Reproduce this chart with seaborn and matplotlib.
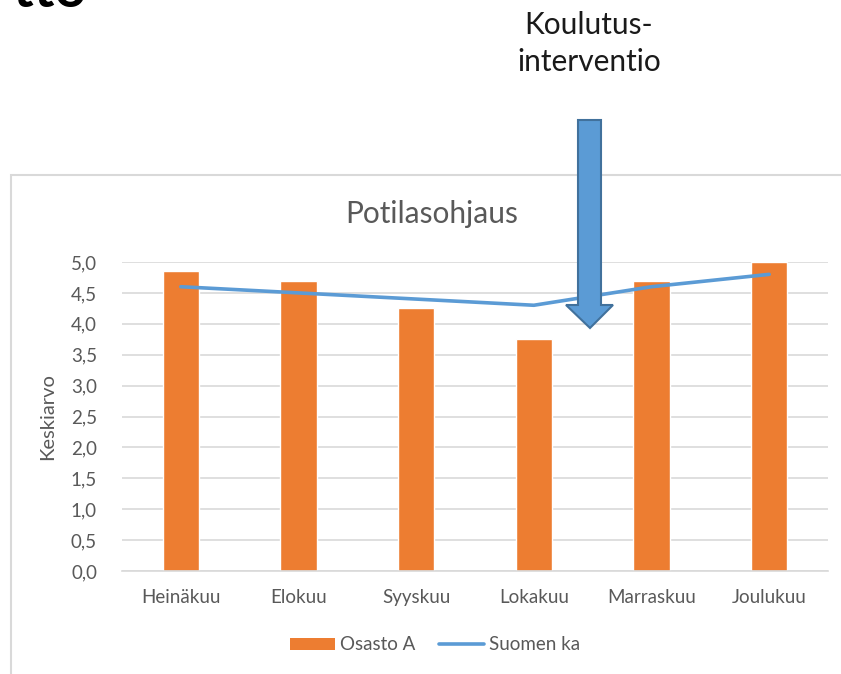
import numpy as np
import pandas as pd
import matplotlib
matplotlib.use("Agg")
import matplotlib.pyplot as plt
import seaborn as sns
from matplotlib.patches import Patch, Polygon, Rectangle
from matplotlib.lines import Line2D

months = ["Heinäkuu", "Elokuu", "Syyskuu", "Lokakuu", "Marraskuu", "Joulukuu"]
osasto_a = [4.85, 4.7, 4.25, 3.75, 4.7, 5.0]
suomen_ka = [4.6, 4.5, 4.4, 4.3, 4.6, 4.8]
y_ticks = [0.0, 0.5, 1.0, 1.5, 2.0, 2.5, 3.0, 3.5, 4.0, 4.5, 5.0]

ORANGE = "#ED7D31"
BLUE = "#5B9BD5"
GRID = "#D9D9D9"
TEXT = "#595959"

W, H = 841, 674

sns.set_style("white")
plt.rcParams["font.family"] = ["Lato", "DejaVu Sans"]

fig = plt.figure(figsize=(W / 100, H / 100), dpi=100)


def px(x, y):
    return (x / W, 1 - y / H)


# chart frame
fig.patches.append(Rectangle(px(11, 700), (W + 20 - 11) / W, (700 - 175) / H,
                             transform=fig.transFigure, fill=False,
                             edgecolor=GRID, linewidth=1.5))

ax = fig.add_axes([122 / W, 1 - 571 / H, (828 - 122) / W, (571 - 262) / H])
df = pd.DataFrame({"kuukausi": months, "osasto": osasto_a, "suomi": suomen_ka})

sns.barplot(data=df, x="kuukausi", y="osasto", color=ORANGE, width=0.31,
            saturation=1, ax=ax, zorder=2)
sns.lineplot(x=np.arange(len(months)), y=df["suomi"], color=BLUE,
             linewidth=2.6, ax=ax, zorder=3)

ax.set_ylim(0, 5)
ax.set_xlim(-0.5, len(months) - 0.5)
ax.set_yticks(y_ticks)
ax.set_yticklabels([f"{v:.1f}".replace(".", ",") for v in y_ticks])
ax.yaxis.grid(True, color=GRID, linewidth=1.2, zorder=0)
ax.set_axisbelow(True)
for s in ["top", "right", "left"]:
    ax.spines[s].set_visible(False)
ax.spines["bottom"].set_color(GRID)
ax.spines["bottom"].set_linewidth(1.2)
ax.tick_params(axis="both", length=0, labelsize=13.5, colors=TEXT)
ax.tick_params(axis="y", pad=18)
ax.tick_params(axis="x", pad=13)
ax.set_xlabel("")
ax.set_ylabel("Keskiarvo", fontsize=14.5, color=TEXT)
ax.yaxis.set_label_coords(-(122 - 56) / (828 - 122), 0.5)

fig.text(*px(432, 214), "Potilasohjaus", fontsize=21.5, color=TEXT,
         ha="center", va="center")

handles = [Patch(facecolor=ORANGE, edgecolor="none"),
           Line2D([0], [0], color=BLUE, linewidth=2.6)]
fig.legend(handles, ["Osasto A", "Suomen ka"], loc="center",
           bbox_to_anchor=px(435, 645), ncol=2, frameon=False,
           fontsize=13.5, labelcolor=TEXT, handlelength=2.4,
           handleheight=0.6, handletextpad=0.27, columnspacing=1.3)

# annotation above the chart
fig.text(*px(589, 25), "Koulutus-", fontsize=21.5, color="#1a1a1a",
         ha="center", va="center")
fig.text(*px(589, 62), "interventio", fontsize=21.5, color="#1a1a1a",
         ha="center", va="center")
fig.text(*px(13, 7), "tto", fontsize=40, fontweight="bold", color="black",
         ha="left", va="baseline")

arrow_pts = [px(578, 120), px(601, 120), px(601, 305), px(613, 305),
             px(590, 328), px(566, 305), px(578, 305)]
fig.patches.append(Polygon(arrow_pts, closed=True, transform=fig.transFigure,
                           facecolor=BLUE, edgecolor="#41719C", linewidth=1.5,
                           zorder=10))

fig.savefig("out.png", dpi=100)
